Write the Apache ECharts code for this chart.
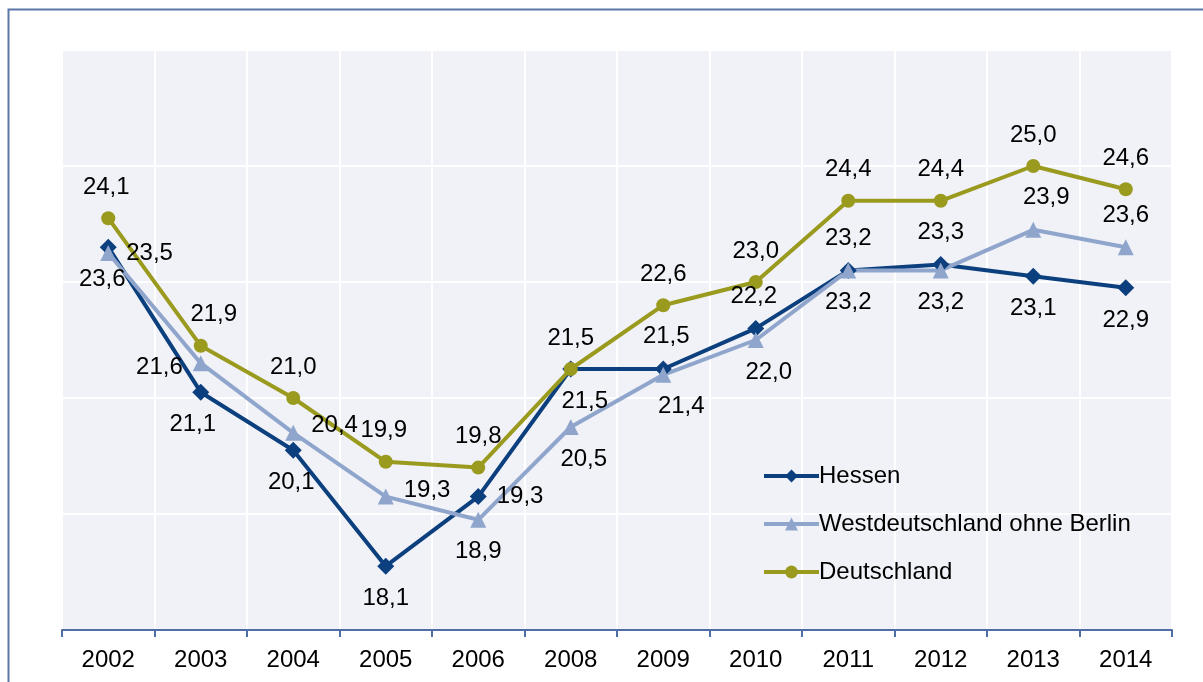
<!DOCTYPE html>
<html>
<head>
<meta charset="utf-8">
<script src="https://cdn.jsdelivr.net/npm/echarts@6/dist/echarts.min.js"></script>
<style>
  html, body { margin: 0; padding: 0; background: #fff; }
  #chart { width: 1203px; height: 682px; }
</style>
</head>
<body>
<div id="chart"></div>
<script>
const years = ['2002', '2003', '2004', '2005', '2006', '2008', '2009', '2010', '2011', '2012', '2013', '2014'];
const hessen = [23.6, 21.1, 20.1, 18.1, 19.3, 21.5, 21.5, 22.2, 23.2, 23.3, 23.1, 22.9];
const westOhneBerlin = [23.5, 21.6, 20.4, 19.3, 18.9, 20.5, 21.4, 22.0, 23.2, 23.2, 23.9, 23.6];
const deutschland = [24.1, 21.9, 21.0, 19.9, 19.8, 21.5, 22.6, 23.0, 24.4, 24.4, 25.0, 24.6];

// where each value label sits, like in the original chart
const hessenLabelPos = ['bottom', 'bottom', 'bottom', 'bottom', 'right', 'bottom', 'top', 'top', 'top', 'top', 'bottom', 'bottom'];
const westLabelPos = ['right', 'left', 'right', 'right', 'bottom', 'bottom', 'bottom', 'bottom', 'bottom', 'bottom', 'top', 'top'];
const deLabelPos = ['top', 'top', 'top', 'top', 'top', 'top', 'top', 'top', 'top', 'top', 'top', 'top'];
// small nudges of the labels (px)
const hessenLabelShift = [[-6, 0], [-8, 0], [-2, 0], [0, 0], [0, 0], [14, 0], [3, 0], [-2, 0], [0, 0], [0, 0], [0, 0], [0, 0]];
const westLabelShift = [[0, 0], [0, 4], [0, -7], [0, -6], [0, 0], [13, 0], [18, 0], [13, 0], [0, 0], [0, 0], [13, 0], [0, 0]];
const deLabelShift = [[-2, 0], [13, 0], [0, 0], [-2, 0], [0, 0], [0, 0], [0, 0], [0, 0], [0, 0], [0, 0], [0, 0], [0, 0]];

const FONT = '"Liberation Sans", Arial, sans-serif';

function fmt(v) {
  return v.toFixed(1).replace('.', ',');
}

function withLabels(values, positions, shifts) {
  return values.map((v, i) => ({
    value: v,
    label: {
      position: positions[i],
      distance: positions[i] === 'left' || positions[i] === 'right' ? 10 : 12,
      offset: shifts[i]
    }
  }));
}

function makeSeries(name, values, positions, shifts, color, symbol, size) {
  return {
    name: name,
    type: 'line',
    data: withLabels(values, positions, shifts),
    symbol: symbol,
    symbolSize: size,
    lineStyle: { color: color, width: 4 },
    itemStyle: { color: color },
    emphasis: { disabled: true },
    label: {
      show: true,
      color: '#000',
      fontSize: 24,
      fontFamily: FONT,
      formatter: p => fmt(p.value)
    }
  };
}

const chart = echarts.init(document.getElementById('chart'), null, { renderer: 'canvas' });

chart.setOption({
  animation: false,
  backgroundColor: '#fff',
  graphic: [{
    type: 'rect',
    shape: { x: 8.5, y: 9.5, width: 1230, height: 720 },
    style: { fill: 'none', stroke: '#5B77A8', lineWidth: 2 },
    silent: true
  }],
  grid: {
    left: 62, right: 31, top: 50, bottom: 52,
    show: true,
    backgroundColor: '#F0F2F7',
    borderWidth: 0
  },
  legend: {
    orient: 'vertical',
    left: 757,
    top: 459,
    itemWidth: 55,
    itemHeight: 16,
    itemGap: 24,
    lineStyle: { width: 4 },
    textStyle: { fontSize: 24, fontFamily: FONT, color: '#000', padding: [0, 0, 0, -5] },
    data: ['Hessen', 'Westdeutschland ohne Berlin', 'Deutschland']
  },
  xAxis: {
    type: 'category',
    data: years,
    boundaryGap: true,
    axisLine: { lineStyle: { color: '#4F6EA6', width: 2 } },
    axisTick: { show: true, length: 7, lineStyle: { color: '#4F6EA6', width: 2 } },
    axisLabel: { color: '#000', fontSize: 24, fontFamily: FONT, margin: 18 },
    splitLine: { show: true, lineStyle: { color: '#fff', width: 2 } }
  },
  yAxis: {
    type: 'value',
    min: 17,
    max: 27,
    interval: 2,
    axisLine: { show: false },
    axisTick: { show: false },
    axisLabel: { show: false },
    splitLine: { show: true, lineStyle: { color: '#fff', width: 2 } }
  },
  series: [
    makeSeries('Hessen', hessen, hessenLabelPos, hessenLabelShift, '#0B3F7E', 'diamond', 17),
    makeSeries('Westdeutschland ohne Berlin', westOhneBerlin, westLabelPos, westLabelShift, '#8FA5CC', 'triangle', 16),
    makeSeries('Deutschland', deutschland, deLabelPos, deLabelShift, '#9A9A1F', 'circle', 14)
  ]
});
</script>
</body>
</html>
